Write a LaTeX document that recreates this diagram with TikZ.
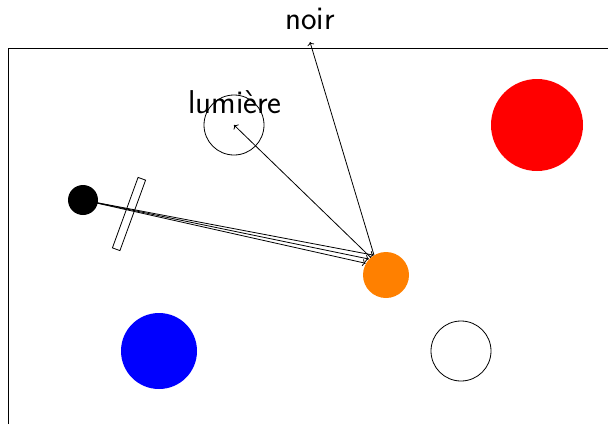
\documentclass[tikz,border=0pt]{standalone}
\usepackage{fontspec}
\usetikzlibrary{arrows.meta, positioning, calc}
\definecolor{deeporange}{RGB}{255,128,0}

\begin{document}
\begin{tikzpicture}[x=1pt, y=-1pt, line width=0.8pt,
    ball/.style={circle, inner sep=0pt, minimum size=#1},
    lbl/.style={font=\sffamily\fontsize{33}{38}\selectfont, inner sep=0pt},
    ray/.style={->}]
  \useasboundingbox (0,0) rectangle (608,424);
  % frame
  \draw (8,424) -- (8,48) -- (608,48);
  % balls
  \node[ball=30, fill=black] (src) at (83,200) {};
  \node[ball=46, fill=deeporange] (target) at (386,275) {};
  \node[ball=92, fill=red] (redball) at (537,125) {};
  \node[ball=76, fill=blue] (blueball) at (159,351) {};
  \node[ball=60, draw] (whiteball) at (461,351) {};
  \node[ball=60, draw] (lamp) at (234,125) {};
  % filter
  \node[draw, rectangle, minimum width=8, minimum height=75, inner sep=0pt, rotate=-20] (filter) at (129,214) {};
  % labels
  \node[lbl] (lumiere) at (235,102) {lumière};
  \node[lbl] (noir) at (310,19) {noir};
  \coordinate (noirtip) at (310,42);
  % rays
  \draw[ray] (src.center) -- (target.122);
  \draw[ray] (src.center) -- (target.137);
  \draw[ray] (src.center) -- (target.150);
  \draw[ray] (target.131) -- (lamp.center);
  \draw[ray] (target.121) -- (noirtip);
\end{tikzpicture}
\end{document}
